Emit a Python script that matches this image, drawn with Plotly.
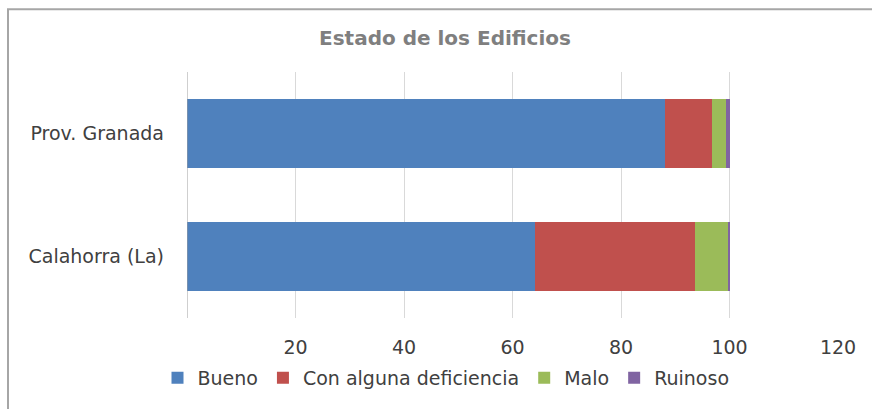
import plotly.graph_objects as go

categories = ["Prov. Granada", "Calahorra (La)"]
series_names = ["Bueno", "Con alguna deficiencia", "Malo", "Ruinoso"]
bueno = [88.2, 64.2]
con_alguna = [8.6, 29.5]
malo = [2.6, 6.2]
ruinoso = [0.6, 0.1]
x_ticks = [20, 40, 60, 80, 100, 120]

colors = ["#4F81BD", "#C0504D", "#9BBB59", "#8064A2"]
values = [bueno, con_alguna, malo, ruinoso]

fig = go.Figure()
for name, vals, col in zip(series_names, values, colors):
    fig.add_trace(go.Bar(
        y=categories, x=vals, name=name, orientation="h",
        marker=dict(color=col, line=dict(width=0)),
    ))

W, H = 872, 409
L, R, T, B = 187, 34, 72, 86
pw, ph = W - L - R, H - T - B
FONT = "DejaVu Sans, sans-serif"

fig.update_layout(
    barmode="stack",
    bargap=0.44,
    width=W, height=H,
    margin=dict(l=L, r=R, t=T, b=B),
    paper_bgcolor="white", plot_bgcolor="white",
    font=dict(family=FONT, color="#404040"),
    title=dict(text="<b>Estado de los Edificios</b>", x=445 / W, xanchor="center",
               y=1 - 38 / H, yanchor="middle",
               font=dict(size=20, color="#7f7f7f", family=FONT)),
    legend=dict(orientation="h", x=(446 - L) / pw, xanchor="center", y=-(384 - T - ph) / ph,
                yanchor="middle",
                font=dict(size=19, color="#404040", family=FONT), traceorder="normal",
                itemwidth=30),
    xaxis=dict(range=[0, 120], tickvals=x_ticks, showgrid=True, gridcolor="#d9d9d9",
               gridwidth=1, zeroline=False, showline=False,
               tickfont=dict(size=19, color="#404040", family=FONT), ticklabelstandoff=16),
    yaxis=dict(autorange=False, range=[1.5, -0.5], type="category",
               showline=False,
               tickfont=dict(size=19, color="#404040", family=FONT), ticks="",
               ticklabelstandoff=22),
    shapes=[
        dict(type="line", xref="x", yref="paper", x0=0, x1=0, y0=0, y1=1,
             line=dict(color="#a0a0a0", width=1)),
        dict(type="rect", xref="paper", yref="paper",
             x0=-(L - 8) / pw, x1=(W + 20 - L) / pw,
             y0=-(B + 20) / ph, y1=1 + (T - 8) / ph,
             line=dict(color="#a6a6a6", width=2), fillcolor="rgba(0,0,0,0)", layer="below"),
    ],
)

fig.write_html("out.html", config={"displayModeBar": False},
               post_script="document.body.style.margin='0px';document.body.style.overflow='hidden';")
